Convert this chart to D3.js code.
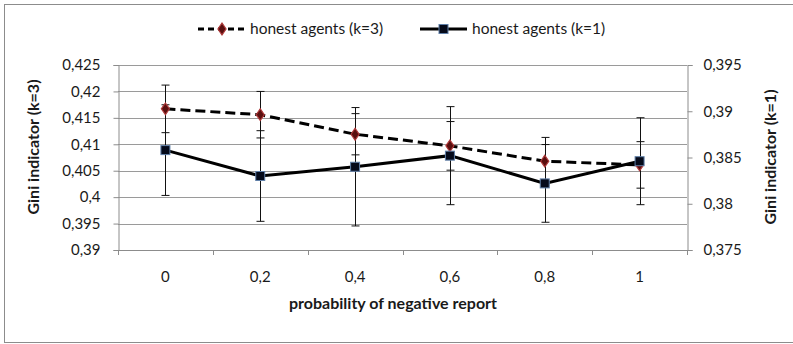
<!DOCTYPE html>
<html>
<head>
<meta charset="utf-8">
<script src="https://cdn.jsdelivr.net/npm/d3@7"></script>
<style>
  html, body { margin: 0; padding: 0; background: #fff; }
  svg { display: block; font-family: Lato, "Open Sans", sans-serif; }
</style>
</head>
<body>
<svg id="chart" width="793" height="344"></svg>
<script>
// Probability of a negative report (category axis)
const categories = ["0", "0,2", "0,4", "0,6", "0,8", "1"];

// Gini indicator, honest agents k=3 (left axis) with error half-widths
const giniK3 = [0.4167, 0.4156, 0.4119, 0.4097, 0.4068, 0.4061];
const errK3  = [0.0045, 0.0044, 0.0039, 0.0046, 0.0045, 0.0044];

// Gini indicator, honest agents k=1 (right axis) with error half-widths
const giniK1 = [0.3858, 0.3830, 0.3840, 0.3852, 0.3822, 0.3846];
const errK1  = [0.0049, 0.0049, 0.0064, 0.0053, 0.0042, 0.0047];

// Axis ticks
const leftTicks  = [0.39, 0.395, 0.4, 0.405, 0.41, 0.415, 0.42, 0.425];
const rightTicks = [0.375, 0.38, 0.385, 0.39, 0.395];

const svg = d3.select("#chart");
const fmt = d3.formatLocale({decimal: ",", thousands: ".", grouping: [3], currency: ["", ""]}).format(".3~f");

const plotLeft = 118, plotRight = 687, plotTop = 65, plotBottom = 250;

const x = d3.scaleBand().domain(categories).range([plotLeft, plotRight]).padding(0);
const yL = d3.scaleLinear().domain([0.39, 0.425]).range([plotBottom, plotTop]);
const yR = d3.scaleLinear().domain([0.375, 0.395]).range([plotBottom, plotTop]);
const cx = c => x(c) + x.bandwidth() / 2;

// Outer chart frame
svg.append("rect")
  .attr("x", 4.5).attr("y", 4.5).attr("width", 820).attr("height", 338)
  .attr("fill", "#fff").attr("stroke", "#8c8c8c").attr("stroke-width", 1);

// Horizontal gridlines
svg.append("g").selectAll("line").data(leftTicks.slice(1)).join("line")
  .attr("x1", plotLeft).attr("x2", plotRight)
  .attr("y1", d => Math.round(yL(d)) + 0.5).attr("y2", d => Math.round(yL(d)) + 0.5)
  .attr("stroke", "#9a9a9a").attr("stroke-width", 1);

// Left axis
const gL = svg.append("g").attr("transform", `translate(${plotLeft + 0.5},0)`)
  .call(d3.axisLeft(yL).tickValues(leftTicks).tickFormat(fmt).tickSize(5).tickPadding(13));
// Right axis
const gR = svg.append("g").attr("transform", `translate(${plotRight + 0.5},0)`)
  .call(d3.axisRight(yR).tickValues(rightTicks).tickFormat(fmt).tickSize(5).tickPadding(11));
// Bottom axis (labels only; boundary ticks drawn below)
const gB = svg.append("g").attr("transform", `translate(0,${plotBottom + 0.5})`)
  .call(d3.axisBottom(x).tickSize(0).tickPadding(21));

[gL, gR, gB].forEach(g => {
  g.select(".domain").attr("stroke", "#8c8c8c");
  g.selectAll(".tick line").attr("stroke", "#8c8c8c");
  g.selectAll("text").attr("fill", "#1a1a1a").style("font-size", "15px")
    .style("font-family", "Lato, 'Open Sans', sans-serif");
});
gB.select(".domain").attr("d", `M${plotLeft},0H${plotRight}`);

// Category boundary ticks on the x axis
const bounds = categories.map(c => x(c)).concat([x(categories[categories.length - 1]) + x.bandwidth()]);
svg.append("g").selectAll("line").data(bounds).join("line")
  .attr("x1", d => Math.round(d) + 0.5).attr("x2", d => Math.round(d) + 0.5)
  .attr("y1", plotBottom).attr("y2", plotBottom + 5)
  .attr("stroke", "#8c8c8c");

// Error bars
function errorBars(vals, errs, y) {
  const g = svg.append("g").attr("stroke", "#111").attr("stroke-width", 1);
  categories.forEach((c, i) => {
    const px = Math.round(cx(c)) + 0.5;
    const y0 = y(vals[i] + errs[i]), y1 = y(vals[i] - errs[i]);
    g.append("line").attr("x1", px).attr("x2", px).attr("y1", y0).attr("y2", y1);
    g.append("line").attr("x1", px - 4).attr("x2", px + 4).attr("y1", y0).attr("y2", y0);
    g.append("line").attr("x1", px - 4).attr("x2", px + 4).attr("y1", y1).attr("y2", y1);
  });
}
errorBars(giniK3, errK3, yL);
errorBars(giniK1, errK1, yR);

// Series k=3: dashed line with diamond markers
const lineL = d3.line().x((d, i) => cx(categories[i])).y(d => yL(d));
svg.append("path").datum(giniK3).attr("d", lineL)
  .attr("fill", "none").attr("stroke", "#000").attr("stroke-width", 3)
  .attr("stroke-dasharray", "10,5");
const diamond = d3.symbol().type(d3.symbolDiamond).size(40);
svg.append("g").selectAll("path").data(giniK3).join("path")
  .attr("d", diamond)
  .attr("transform", (d, i) => `translate(${cx(categories[i])},${yL(d)}) scale(1.2,1)`)
  .attr("fill", "#5a1010").attr("stroke", "#b03a3a").attr("stroke-width", 1);

// Series k=1: solid line with square markers
const lineR = d3.line().x((d, i) => cx(categories[i])).y(d => yR(d));
svg.append("path").datum(giniK1).attr("d", lineR)
  .attr("fill", "none").attr("stroke", "#000").attr("stroke-width", 3);
svg.append("g").selectAll("rect").data(giniK1).join("rect")
  .attr("x", (d, i) => cx(categories[i]) - 4.5).attr("y", d => yR(d) - 4.5)
  .attr("width", 9).attr("height", 9)
  .attr("fill", "#050a1a").attr("stroke", "#5f7fa8").attr("stroke-width", 1);

// Axis titles
svg.append("text")
  .attr("transform", `translate(39,147) rotate(-90)`)
  .attr("text-anchor", "middle").attr("font-weight", "bold").style("font-size", "16px")
  .attr("fill", "#1a1a1a").text("Gini indicator (k=3)");
svg.append("text")
  .attr("transform", `translate(776,157) rotate(-90)`)
  .attr("text-anchor", "middle").attr("font-weight", "bold").style("font-size", "16px")
  .attr("fill", "#1a1a1a").text("Gini indicator (k=1)");
svg.append("text")
  .attr("x", 393).attr("y", 309).attr("text-anchor", "middle")
  .attr("font-weight", "bold").style("font-size", "16px").attr("fill", "#1a1a1a")
  .text("probability of negative report");

// Legend
const leg = svg.append("g");
leg.append("line").attr("x1", 198).attr("x2", 246).attr("y1", 29).attr("y2", 29)
  .attr("stroke", "#000").attr("stroke-width", 3).attr("stroke-dasharray", "6,4");
leg.append("path").attr("d", diamond).attr("transform", "translate(222,29) scale(1.2,1)")
  .attr("fill", "#5a1010").attr("stroke", "#b03a3a");
leg.append("text").attr("x", 250).attr("y", 34).style("font-size", "15.5px")
  .attr("fill", "#1a1a1a").text("honest agents (k=3)");
leg.append("line").attr("x1", 420).attr("x2", 467).attr("y1", 29).attr("y2", 29)
  .attr("stroke", "#000").attr("stroke-width", 3);
leg.append("rect").attr("x", 439).attr("y", 24.5).attr("width", 9).attr("height", 9)
  .attr("fill", "#050a1a").attr("stroke", "#5f7fa8");
leg.append("text").attr("x", 472).attr("y", 34).style("font-size", "15.5px")
  .attr("fill", "#1a1a1a").text("honest agents (k=1)");
</script>
</body>
</html>
